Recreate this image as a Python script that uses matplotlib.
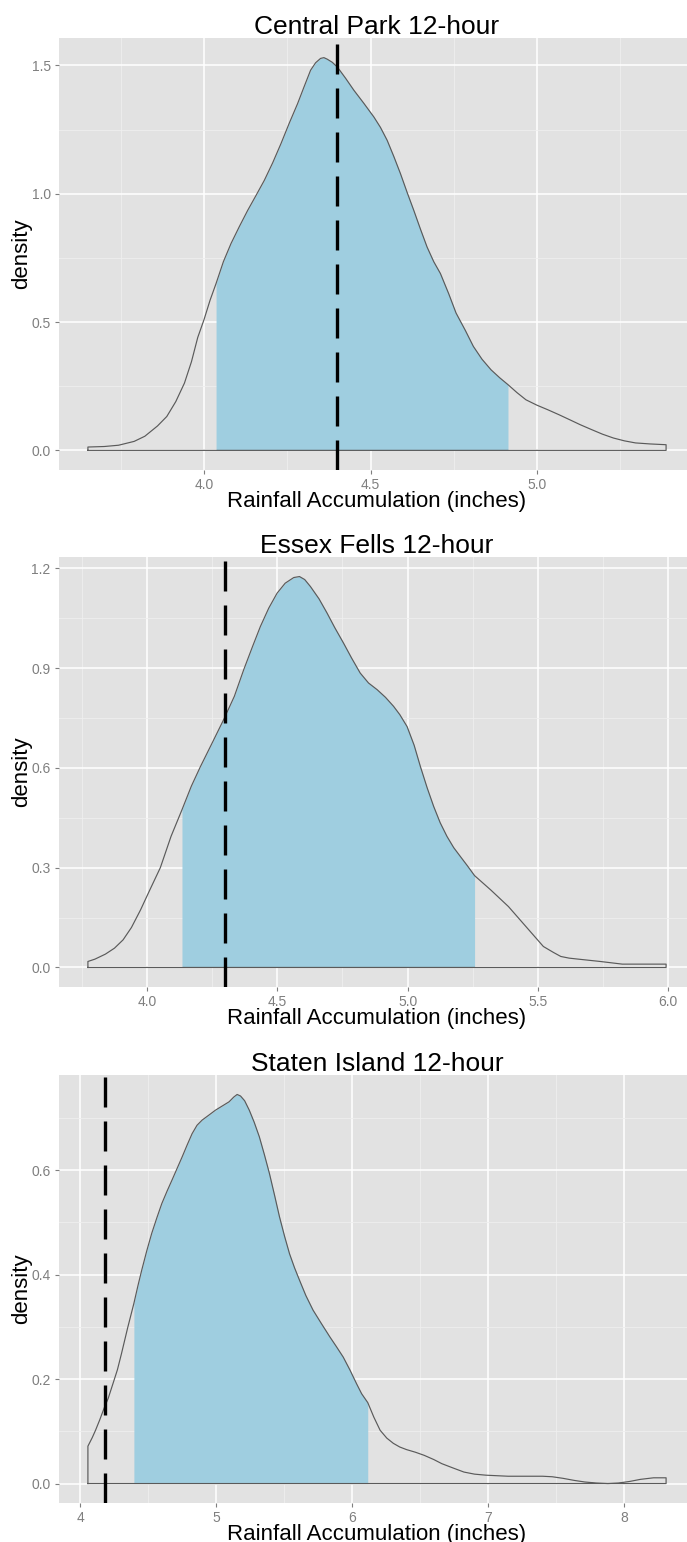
import numpy as np
import matplotlib
matplotlib.use('Agg')
import matplotlib.pyplot as plt
from matplotlib.ticker import MultipleLocator, FormatStrFormatter

plt.rcParams['font.family'] = ['Liberation Sans', 'DejaVu Sans']

# Central Park 12-hour
cp_x = [3.651, 3.700, 3.743, 3.790, 3.822, 3.860, 3.888, 3.915, 3.941, 3.962,
        3.981, 4.000, 4.018, 4.036, 4.058, 4.081, 4.106, 4.131, 4.156, 4.181,
        4.206, 4.231, 4.256, 4.281, 4.300, 4.320, 4.335, 4.350, 4.360, 4.370,
        4.385, 4.400, 4.425, 4.450, 4.480, 4.510, 4.530, 4.550, 4.570, 4.590,
        4.610, 4.630, 4.650, 4.670, 4.690, 4.710, 4.735, 4.757, 4.785, 4.809,
        4.835, 4.862, 4.888, 4.913, 4.940, 4.967, 5.000, 5.033, 5.066, 5.099,
        5.130, 5.164, 5.197, 5.230, 5.263, 5.296, 5.340, 5.388]
cp_y = [0.013, 0.015, 0.020, 0.035, 0.055, 0.095, 0.132, 0.190, 0.262, 0.345,
        0.440, 0.510, 0.585, 0.650, 0.735, 0.806, 0.872, 0.935, 0.993, 1.052,
        1.120, 1.195, 1.275, 1.351, 1.415, 1.481, 1.510, 1.527, 1.530, 1.524,
        1.512, 1.494, 1.450, 1.403, 1.352, 1.299, 1.258, 1.208, 1.145, 1.078,
        1.005, 0.935, 0.862, 0.792, 0.735, 0.689, 0.610, 0.535, 0.467, 0.405,
        0.355, 0.314, 0.283, 0.256, 0.225, 0.197, 0.176, 0.158, 0.139, 0.119,
        0.100, 0.081, 0.063, 0.048, 0.037, 0.029, 0.025, 0.022]

# Essex Fells 12-hour
ef_x = [3.773, 3.800, 3.840, 3.875, 3.908, 3.940, 3.975, 4.010, 4.051, 4.092,
        4.134, 4.170, 4.205, 4.250, 4.294, 4.335, 4.371, 4.405, 4.435, 4.467,
        4.499, 4.530, 4.563, 4.585, 4.605, 4.627, 4.660, 4.691, 4.720, 4.754,
        4.785, 4.818, 4.850, 4.883, 4.915, 4.946, 4.970, 4.998, 5.025, 5.049,
        5.075, 5.100, 5.125, 5.151, 5.177, 5.202, 5.230, 5.257, 5.319, 5.387,
        5.454, 5.521, 5.560, 5.588, 5.620, 5.655, 5.739, 5.824, 5.900, 5.992]
ef_y = [0.018, 0.025, 0.040, 0.058, 0.083, 0.120, 0.173, 0.232, 0.300, 0.394,
        0.474, 0.545, 0.604, 0.675, 0.745, 0.815, 0.895, 0.965, 1.025, 1.080,
        1.125, 1.155, 1.172, 1.175, 1.166, 1.145, 1.108, 1.065, 1.022, 0.975,
        0.930, 0.885, 0.855, 0.835, 0.812, 0.785, 0.760, 0.724, 0.668, 0.604,
        0.540, 0.484, 0.435, 0.394, 0.360, 0.334, 0.305, 0.276, 0.233, 0.183,
        0.123, 0.063, 0.045, 0.033, 0.028, 0.025, 0.018, 0.010, 0.010, 0.010]

# Staten Island 12-hour
si_x = [4.058, 4.090, 4.114, 4.145, 4.178, 4.207, 4.243, 4.275, 4.305, 4.350,
        4.396, 4.425, 4.453, 4.490, 4.527, 4.565, 4.601, 4.640, 4.676, 4.713,
        4.750, 4.787, 4.824, 4.860, 4.898, 4.950, 4.996, 5.046, 5.096, 5.130,
        5.155, 5.180, 5.210, 5.244, 5.280, 5.318, 5.355, 5.392, 5.430, 5.466,
        5.503, 5.540, 5.577, 5.614, 5.660, 5.713, 5.775, 5.836, 5.885, 5.935,
        5.985, 6.033, 6.070, 6.115, 6.160, 6.206, 6.255, 6.303, 6.350, 6.400,
        6.465, 6.530, 6.600, 6.660, 6.740, 6.822, 6.900, 6.984, 7.146, 7.308,
        7.400, 7.471, 7.550, 7.633, 7.710, 7.795, 7.880, 7.957, 8.040, 8.119,
        8.216, 8.308]
si_y = [0.0715, 0.088, 0.102, 0.122, 0.145, 0.163, 0.192, 0.218, 0.249, 0.298,
        0.345, 0.378, 0.408, 0.445, 0.479, 0.509, 0.536, 0.560, 0.581, 0.603,
        0.625, 0.648, 0.670, 0.686, 0.696, 0.706, 0.715, 0.723, 0.731, 0.740,
        0.745, 0.742, 0.733, 0.715, 0.692, 0.664, 0.630, 0.594, 0.552, 0.511,
        0.474, 0.440, 0.413, 0.389, 0.360, 0.332, 0.306, 0.281, 0.262, 0.242,
        0.217, 0.191, 0.172, 0.155, 0.127, 0.102, 0.087, 0.077, 0.070, 0.065,
        0.060, 0.054, 0.046, 0.038, 0.030, 0.022, 0.018, 0.016, 0.014, 0.014,
        0.014, 0.013, 0.010, 0.006, 0.003, 0.001, 0.000, 0.001, 0.004, 0.008,
        0.011, 0.011]

titles = ['Central Park 12-hour', 'Essex Fells 12-hour', 'Staten Island 12-hour']
observed = [4.40, 4.30, 4.185]           # dashed lines
fill_lo = [4.036, 4.134, 4.396]          # shaded interval
fill_hi = [4.913, 5.257, 6.115]
y_steps = [0.5, 0.3, 0.2]
x_steps = [0.5, 0.5, 1.0]
x_fmt = ['%.1f', '%.1f', '%.0f']

series = [(cp_x, cp_y), (ef_x, ef_y), (si_x, si_y)]

W, H = 687, 1542
fig = plt.figure(figsize=(W / 100, H / 100), dpi=100)

# panel pixel boxes (top, bottom); panels run past the right edge
panels = [(38, 470), (557, 987), (1075, 1503)]
left_px, width_px = 59, 636
FILL = '#9FCEE0'
GREY = '#7F7F7F'

for i, ((xs, ys), (top, bot)) in enumerate(zip(series, panels)):
    x = np.array(xs)
    y = np.array(ys)
    ax = fig.add_axes([left_px / W, 1 - bot / H, width_px / W, (bot - top) / H])
    ax.set_facecolor('#E2E2E2')
    for s in ax.spines.values():
        s.set_visible(False)

    # ggplot-like 5% expansion
    xr = x.max() - x.min()
    ax.set_xlim(x.min() - 0.05 * xr, x.max() + 0.05 * xr)
    ax.set_ylim(-0.05 * y.max(), 1.05 * y.max())

    ax.xaxis.set_major_locator(MultipleLocator(x_steps[i]))
    ax.xaxis.set_minor_locator(MultipleLocator(x_steps[i] / 2))
    ax.yaxis.set_major_locator(MultipleLocator(y_steps[i]))
    ax.yaxis.set_minor_locator(MultipleLocator(y_steps[i] / 2))
    ax.xaxis.set_major_formatter(FormatStrFormatter(x_fmt[i]))
    ax.yaxis.set_major_formatter(FormatStrFormatter('%.1f'))
    ax.grid(which='major', color='white', linewidth=1.1)
    ax.grid(which='minor', color='#EFEFEF', linewidth=0.6)
    ax.set_axisbelow(True)
    ax.tick_params(which='major', length=3, width=0.8, color=GREY,
                   labelcolor=GREY, labelsize=10, pad=3)
    ax.tick_params(which='minor', length=0)

    # shaded interval
    m = (x >= fill_lo[i]) & (x <= fill_hi[i])
    ax.fill_between(x[m], 0, y[m], color=FILL, linewidth=0, zorder=2)

    # density outline (closed polygon down to zero)
    ox = np.r_[x[0], x, x[-1], x[0]]
    oy = np.r_[0, y, 0, 0]
    ax.plot(ox, oy, color='#5A5A5A', linewidth=0.85, zorder=3)

    ax.axvline(observed[i], color='black', linewidth=2.4, dashes=(9, 4.2), zorder=4)

    cx = (left_px + width_px / 2) / W
    fig.text(cx, 1 - (top - 4) / H, titles[i], ha='center', va='baseline', fontsize=19)
    fig.text(cx, 1 - (bot + 37) / H, 'Rainfall Accumulation (inches)',
             ha='center', va='baseline', fontsize=16)
    fig.text(22 / W, 1 - (top + bot) / 2 / H, 'density', rotation=90,
             ha='center', va='center', fontsize=16)

fig.savefig('out.png', dpi=100)
